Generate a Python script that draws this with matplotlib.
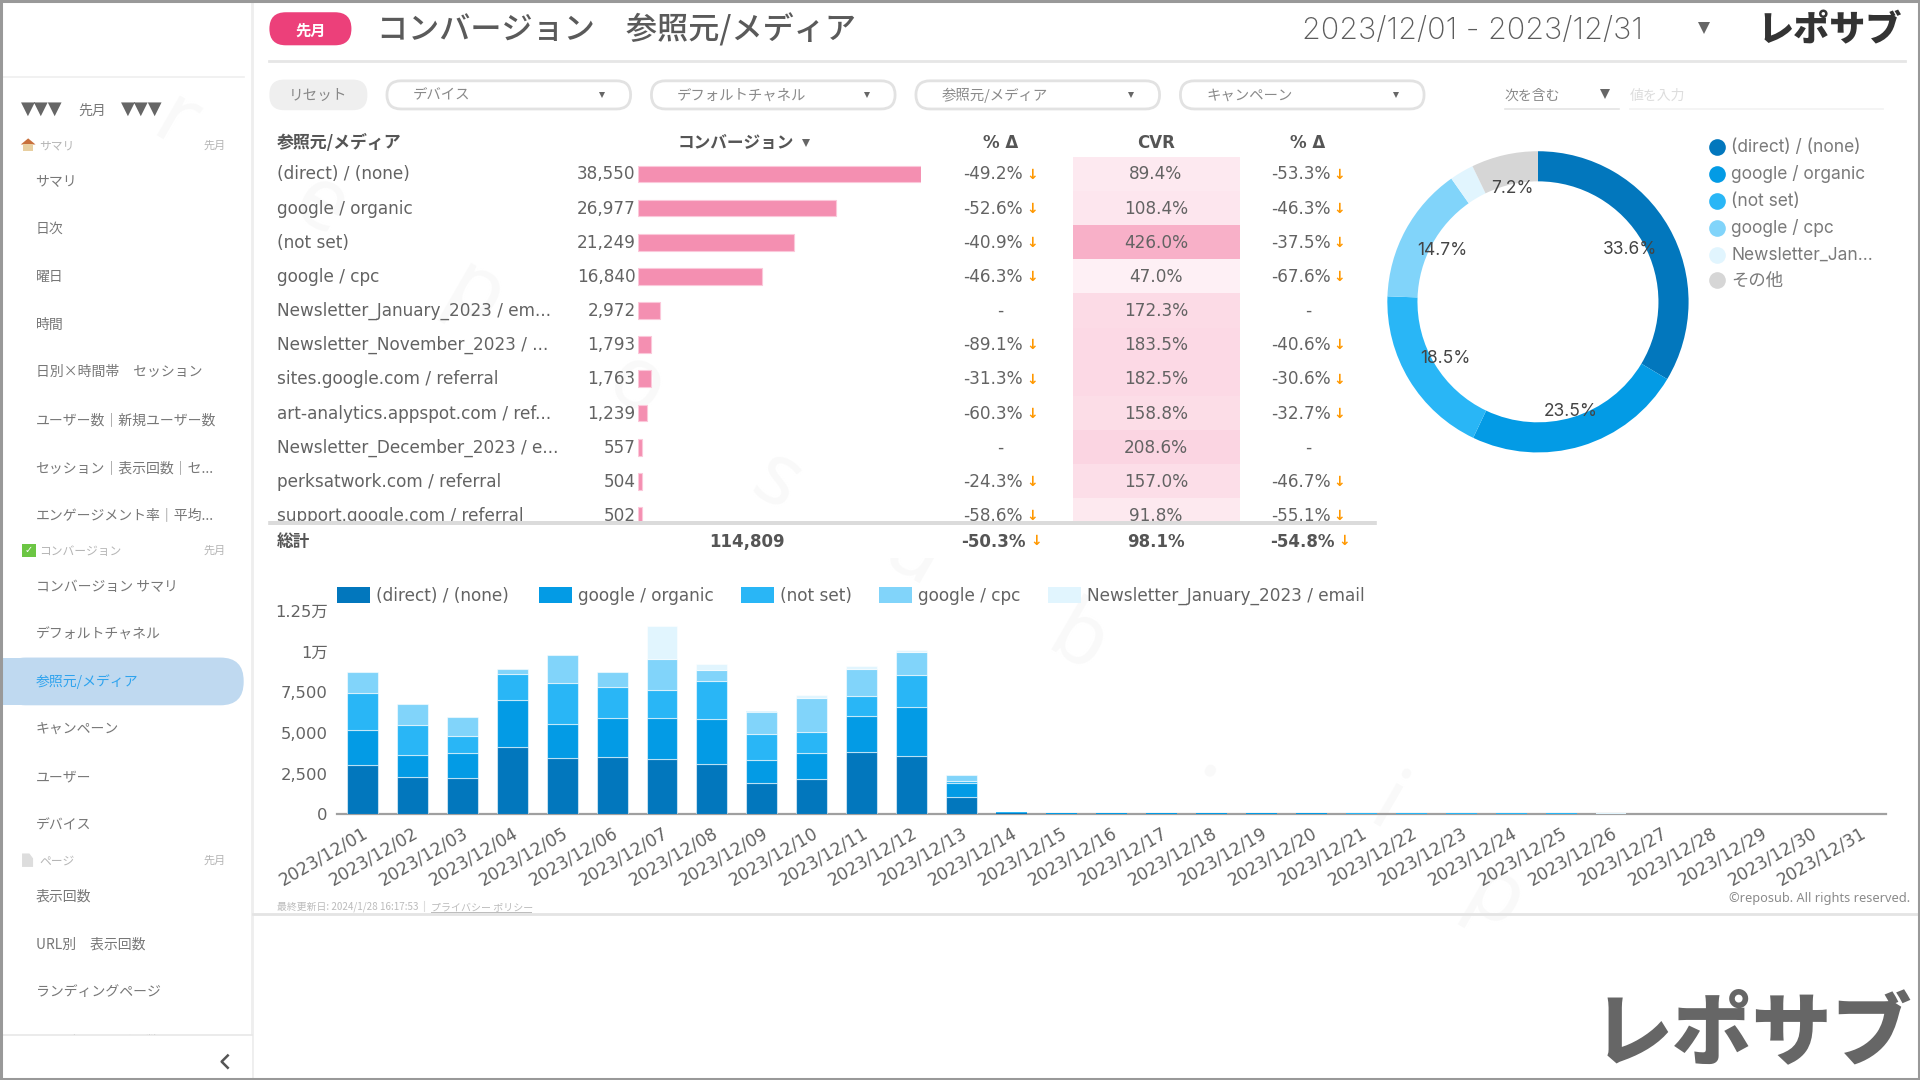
import matplotlib
matplotlib.use("Agg")
import matplotlib.pyplot as plt
import numpy as np
from matplotlib.colors import LinearSegmentedColormap, Normalize
from matplotlib.patches import FancyBboxPatch, Rectangle, Polygon

# 表のデータ
sources = [
    "(direct) / (none)", "google / organic", "(not set)", "google / cpc",
    "Newsletter_January_2023 / em...", "Newsletter_November_2023 / ...",
    "sites.google.com / referral", "art-analytics.appspot.com / ref...",
    "Newsletter_December_2023 / e...", "perksatwork.com / referral",
    "support.google.com / referral",
]
conversions = [38550, 26977, 21249, 16840, 2972, 1793, 1763, 1239, 557, 504, 502]
conv_delta = [-49.2, -52.6, -40.9, -46.3, None, -89.1, -31.3, -60.3, None, -24.3, -58.6]
cvr = [89.4, 108.4, 426.0, 47.0, 172.3, 183.5, 182.5, 158.8, 208.6, 157.0, 91.8]
cvr_delta = [-53.3, -46.3, -37.5, -67.6, None, -40.6, -30.6, -32.7, None, -46.7, -55.1]
total_conv = "114,809"
total_conv_delta = "-50.3%"
total_cvr = "98.1%"
total_cvr_delta = "-54.8%"

# ドーナツ
pie_labels = ["(direct) / (none)", "google / organic", "(not set)", "google / cpc",
              "Newsletter_Jan...", "その他"]
pie_values = [38550, 26977, 21249, 16840, 2972, 8221]

# 日別の積み上げ棒
dates = [f"2023/12/{d:02d}" for d in range(1, 32)]
direct = [3006, 2311, 2250, 4151, 3456, 3538, 3415, 3088, 1943, 2188, 3824, 3579, 1063,
          70, 40, 30, 30, 40, 30, 35, 30, 25, 28, 25, 28, 22, 22, 20, 22, 20, 20]
organic = [2168, 1329, 1513, 2863, 2086, 2393, 2515, 2781, 1391, 1575, 2229, 3047, 879,
           30, 25, 20, 20, 25, 20, 22, 18, 16, 16, 16, 16, 15, 14, 14, 14, 14, 14]
not_set = [2290, 1840, 1022, 1636, 2515, 1902, 1697, 2331, 1575, 1268, 1207, 1922, 120,
           15, 15, 10, 10, 12, 10, 10, 8, 8, 8, 8, 8, 6, 6, 6, 6, 6, 6]
cpc = [1288, 1309, 1227, 286, 1759, 920, 1943, 654, 1391, 2147, 1697, 1432, 348,
       15, 15, 8, 8, 12, 8, 8, 6, 6, 6, 6, 6, 5, 5, 5, 5, 5, 5]
newsletter = [0, 0, 0, 0, 0, 0, 1984, 409, 60, 143, 164, 102, 30,
              5, 3, 2, 2, 3, 2, 2, 2, 1, 1, 1, 1, 1, 1, 1, 1, 1, 1]
series_names = ["(direct) / (none)", "google / organic", "(not set)", "google / cpc",
                "Newsletter_January_2023 / email"]
series_values = [direct, organic, not_set, cpc, newsletter]
y_ticks = [0, 2500, 5000, 7500, 10000, 12500]
y_tick_labels = ["0", "2,500", "5,000", "7,500", "1万", "1.25万"]

# サイドバー
menu_items = [
    (148, "サマリ"), (187, "日次"), (226, "曜日"), (265, "時間"),
    (304, "日別×時間帯　セッション"), (343, "ユーザー数｜新規ユーザー数"),
    (382, "セッション｜表示回数｜セ..."), (421, "エンゲージメント率｜平均..."),
    (479, "コンバージョン サマリ"), (518, "デフォルトチャネル"), (557, "参照元/メディア"),
    (596, "キャンペーン"), (635, "ユーザー"), (674, "デバイス"),
    (732, "表示回数"), (771, "URL別　表示回数"), (810, "ランディングページ"),
    (851, "URL別　ユーザー数"),
]
section_items = [(119, "サマリ"), (450, "コンバージョン"), (703, "ページ")]
filter_items = [(315, "デバイス"), (531, "デフォルトチャネル"), (747, "参照元/メディア"), (963, "キャンペーン")]

BLUES = ["#0277bd", "#039be5", "#29b6f6", "#81d4fa", "#e1f5fe", "#d6d6d6"]
TEXT = "#636363"
LAT = ["Noto Sans", "Noto Sans CJK JP", "DejaVu Sans"]
TBL = ["DejaVu Sans", "Noto Sans CJK JP"]
JP = ["Noto Sans CJK JP", "DejaVu Sans"]
WIDE = ["Inter", "Noto Sans CJK JP", "DejaVu Sans"]

W, H = 1568, 882
fig = plt.figure(figsize=(19.2, 10.8), dpi=100, facecolor="white")


def make_axes(x0, y0, x1, y1, z=2):
    ax = fig.add_axes([x0 / W, 1 - y1 / H, (x1 - x0) / W, (y1 - y0) / H], zorder=z)
    ax.patch.set_alpha(0)
    return ax


def pill(x0, y0, x1, y1, r, fc="none", ec="none", lw=0, z=2):
    bg.add_patch(FancyBboxPatch((x0, y0), x1 - x0, y1 - y0, boxstyle=f"round,pad=0,rounding_size={r}",
                                fc=fc, ec=ec, lw=lw, zorder=z))


# 背景は画面の座標で描く
bg = fig.add_axes([0, 0, 1, 1], zorder=0)
bg.set_xlim(0, W)
bg.set_ylim(H, 0)
bg.axis("off")

# 透かし
for (wx, wy), ch in zip([(143, 102), (261, 169), (387, 242), (519, 316), (634, 395),
                         (745, 455), (880, 525), (994, 620), (1132, 660), (1220, 735)], "reposub.ip"):
    bg.text(wx, wy, ch, fontsize=62, color="#f9f9f9", family=LAT, fontweight="bold",
            rotation=-30, ha="center", va="center", zorder=0.5)

# サイドバー
bg.plot([206, 206], [0, H], color="#eeeeee", lw=2, zorder=1)
bg.plot([2, 199], [63, 63], color="#efefef", lw=1.2, zorder=1)
bg.text(34.5, 89, "▼▼▼", fontsize=13, color="#666666", family=["DejaVu Sans"], ha="center", va="center")
bg.text(75, 90, "先月", fontsize=10, color="#777777", family=JP, ha="center", va="center")
bg.text(115.5, 89, "▼▼▼", fontsize=13, color="#666666", family=["DejaVu Sans"], ha="center", va="center")
pill(2, 537, 199, 576, 19, fc="#bfd9f0", z=1)
bg.add_patch(Rectangle((2, 537), 30, 39, fc="#bfd9f0", ec="none", zorder=1))
for y, name in menu_items:
    c = "#2ea3ee" if name == "参照元/メディア" else "#777777"
    bg.text(29, y, name, fontsize=10, color=c, family=JP, ha="left", va="center", zorder=3)
bg.add_patch(Rectangle((2, 845), 204, 37, fc="white", ec="none", zorder=4))
bg.plot([2, 206], [845, 845], color="#e8e8e8", lw=1.2, zorder=5)
bg.plot([186, 181, 186], [862, 867, 872], color="#555555", lw=1.8, zorder=5)
for y, name in section_items:
    bg.text(32, y, name, fontsize=8.5, color="#b5b5b5", family=JP, ha="left", va="center")
    bg.text(184, y, "先月", fontsize=8, color="#b5b5b5", family=JP, ha="right", va="center")
bg.add_patch(Polygon([(17, 118), (23, 113), (29, 118)], fc="#c8703c", ec="none"))
bg.add_patch(Rectangle((19, 118), 8, 5, fc="#e8cfa0", ec="none"))
bg.add_patch(Rectangle((18, 444), 11, 11, fc="#6cc644", ec="none"))
bg.text(23.5, 449.5, "✓", fontsize=7, color="white", family=["DejaVu Sans"], fontweight="bold", ha="center", va="center")
bg.add_patch(Polygon([(18, 697), (24, 697), (27, 701), (27, 708), (18, 708)], fc="#dddddd", ec="none"))

# ヘッダー
pill(220, 10, 287, 37, 13.5, fc="#ec407a")
bg.text(253.5, 25, "先月", fontsize=11, color="white", family=JP, fontweight="bold", ha="center", va="center", zorder=3)
bg.text(308, 24.5, "コンバージョン　参照元/メディア", fontsize=22.4, color="#5a5a5a", family=JP, fontweight="medium", ha="left", va="center")
bg.text(1063, 25, "2023/12/01 - 2023/12/31", fontsize=22, color="#5c5c5c", family=WIDE, fontweight="light", ha="left", va="center")
bg.plot([1392], [23], marker="v", ms=9, color="#666666", mew=0)
bg.text(1494, 25, "レポサブ", fontsize=26, color="#333333", family=JP, fontweight="black", ha="center", va="center")
bg.plot([220, 1556], [50, 50], color="#e6e6e6", lw=2)

# フィルター
pill(220, 65, 300, 90, 12, fc="#efefef")
bg.text(260, 78, "リセット", fontsize=10.5, color="#888888", family=JP, ha="center", va="center", zorder=3)
for x, name in filter_items:
    pill(x + 1, 66, x + 200, 89, 11.5, fc="white", ec="#e2e2e2", lw=2)
    bg.text(x + 22, 78, name, fontsize=10.4, color="#8a8a8a", family=JP, ha="left", va="center", zorder=3)
    bg.plot([x + 177], [77.5], marker="v", ms=5, color="#666666", mew=0, zorder=3)
bg.text(1229, 78, "次を含む", fontsize=10, color="#8a8a8a", family=JP, ha="left", va="center")
bg.plot([1311], [77], marker="v", ms=7, color="#666666", mew=0)
bg.plot([1229, 1322], [89, 89], color="#e4e4e4", lw=1.2)
bg.text(1331, 78, "値を入力", fontsize=10, color="#dddddd", family=JP, ha="left", va="center")
bg.plot([1331, 1538], [89, 89], color="#f2f2f2", lw=1.2)

# 表
bg.text(226, 117, "参照元/メディア", fontsize=12.2, color="#555555", family=JP, fontweight="bold", ha="left", va="center")
bg.text(601, 117, "コンバージョン", fontsize=12, color="#555555", family=JP, fontweight="bold", ha="center", va="center")
bg.plot([658], [116.5], marker="v", ms=6, color="#666666", mew=0)
bg.text(817, 116.5, "% Δ", fontsize=12, color="#555555", family=TBL, fontweight="bold", ha="center", va="center")
bg.text(944, 116.5, "CVR", fontsize=12, color="#555555", family=TBL, fontweight="bold", ha="center", va="center")
bg.text(1068, 116.5, "% Δ", fontsize=12, color="#555555", family=TBL, fontweight="bold", ha="center", va="center")

rows_y = 142.5 + 27.9 * np.arange(len(sources))
for i, y in enumerate(rows_y):
    bg.text(226, y, sources[i], fontsize=12.2, color=TEXT, family=TBL, ha="left", va="center", zorder=3)
    bg.text(519, y, f"{conversions[i]:,}", fontsize=12.2, color=TEXT, family=TBL, ha="right", va="center", zorder=3)
    for d, right, mid, arrow in [(conv_delta[i], 835, 817, 843), (cvr_delta[i], 1087, 1068, 1094)]:
        if d is None:
            bg.text(mid, y, "-", fontsize=12.2, color=TEXT, family=TBL, ha="center", va="center", zorder=3)
        else:
            bg.text(right, y, f"{d:.1f}%", fontsize=12.2, color=TEXT, family=TBL, ha="right", va="center", zorder=3)
            bg.text(arrow, y, "↓", fontsize=10, color="#ff9800", family=["DejaVu Sans"], fontweight="bold", ha="center", va="center", zorder=3)

# 行の範囲 (row = 0 が y=142)
row_top, row_bottom = (128 - 142) / 27.9, (425.5 - 142) / 27.9

ax_bar = make_axes(521, 128, 752, 425.5)
ax_bar.barh(np.arange(len(sources)), conversions, height=0.49, color="#f48fb1", edgecolor="#fbc8da", linewidth=0.8)
ax_bar.set_xlim(0, conversions[0])
ax_bar.set_ylim(row_bottom, row_top)
ax_bar.axis("off")

cvr_cmap = LinearSegmentedColormap.from_list("cvr", ["#ffffff", "#f8b0c8"])
ax_cvr = make_axes(876, 128, 1013, 425.5, z=1)
ax_cvr.pcolormesh([0, 1], np.arange(len(sources) + 1) - 0.5, np.array(cvr).reshape(-1, 1),
                  cmap=cvr_cmap, norm=Normalize(vmin=-40, vmax=426))
ax_cvr.set_ylim(row_bottom, row_top)
ax_cvr.axis("off")

# 11行目は下で切れている
ax_top = fig.add_axes([0, 0, 1, 1], zorder=3)
ax_top.set_xlim(0, W)
ax_top.set_ylim(H, 0)
ax_top.axis("off")
for i, y in enumerate(rows_y):
    ax_top.text(944, y, f"{cvr[i]:.1f}%", fontsize=12.2, color=TEXT, family=TBL, ha="center", va="center", zorder=1)
ax_top.add_patch(Rectangle((208, 425.5), 930, 30, fc="white", ec="none", zorder=2))
ax_top.plot([220, 1124], [426, 426], color="#d4d4d4", lw=1.2, zorder=3)
ax_top.plot([220, 1124], [428, 428], color="#d4d4d4", lw=1.2, zorder=3)
ax_top.text(226, 443, "総計", fontsize=12, color="#555555", family=JP, fontweight="bold", ha="left", va="center", zorder=3)
ax_top.text(610, 442.5, total_conv, fontsize=12, color="#555555", family=TBL, fontweight="bold", ha="center", va="center", zorder=3)
ax_top.text(838, 442.5, total_conv_delta, fontsize=12, color="#555555", family=TBL, fontweight="bold", ha="right", va="center", zorder=3)
ax_top.text(846, 442, "↓", fontsize=10, color="#ff9800", family=["DejaVu Sans"], fontweight="bold", ha="center", va="center", zorder=3)
ax_top.text(944, 442.5, total_cvr, fontsize=12, color="#555555", family=TBL, fontweight="bold", ha="center", va="center", zorder=3)
ax_top.text(1090, 442.5, total_cvr_delta, fontsize=12, color="#555555", family=TBL, fontweight="bold", ha="right", va="center", zorder=3)
ax_top.text(1098, 442, "↓", fontsize=10, color="#ff9800", family=["DejaVu Sans"], fontweight="bold", ha="center", va="center", zorder=3)

# ドーナツ
ax_pie = make_axes(1133, 123, 1379, 370)
wedges, _, pct_texts = ax_pie.pie(pie_values, colors=BLUES, startangle=90, counterclock=False, radius=1,
                                  wedgeprops=dict(width=0.2), pctdistance=0.72,
                                  autopct=lambda p: f"{p:.1f}%" if p > 5 else "",
                                  textprops=dict(fontsize=12.5, color="#444444", family=WIDE))
# ラベルは内側の縁に少しかかる位置
for t, r in zip(pct_texts, [0.70, 0.76, 0.72, 0.72, 0.72, 0.77]):
    px, py = t.get_position()
    scale = r / np.hypot(px, py)
    t.set_position((px * scale, py * scale))
ax_pie.set_xlim(-1, 1)
ax_pie.set_ylim(-1, 1)
for y, name, c in zip([120, 142, 164, 186, 208, 229], pie_labels, BLUES):
    bg.plot([1402], [y], marker="o", ms=12, color=c, mec="none")
    bg.text(1414, y + 0.5, name, fontsize=12.5, color="#7a7a7a", family=WIDE, ha="left", va="center")

# 積み上げ棒
ax_day = make_axes(275.5, 499, 1540, 665)
x = np.arange(len(dates))
bottom = np.zeros(len(dates))
for vals, c in zip(series_values, BLUES):
    # 小さい棒は縁取りで消えないようにする
    edges = [(1, 1, 1, 0.55) if v >= 100 else (1, 1, 1, 0) for v in vals]
    ax_day.bar(x, vals, width=0.62, bottom=bottom, color=c, edgecolor=edges, linewidth=0.8)
    bottom += np.array(vals)
ax_day.set_xlim(-0.5, len(dates) - 0.5)
ax_day.set_ylim(0, 12500)
ax_day.set_yticks(y_ticks)
ax_day.set_yticklabels(y_tick_labels, fontsize=11.8, color=TEXT, family=TBL)
ax_day.set_xticks(x)
ax_day.set_xticklabels(dates, fontsize=12.4, color=TEXT, family=TBL, rotation=30, ha="right", rotation_mode="anchor")
ax_day.tick_params(length=0, axis="both")
ax_day.tick_params(axis="y", pad=7)
ax_day.tick_params(axis="x", pad=7)
for side in ["top", "left", "right"]:
    ax_day.spines[side].set_visible(False)
ax_day.spines["bottom"].set_color("#a0a0a0")
ax_day.spines["bottom"].set_linewidth(1.6)
ax_day.spines["bottom"].set_zorder(0.5)

for sx, name, c in zip([275, 440, 605, 718, 856], series_names, BLUES):
    bg.add_patch(Rectangle((sx, 479.5), 27, 13, fc=c, ec="none"))
    bg.text(sx + 32, 486.5, name, fontsize=12.2, color=TEXT, family=TBL, ha="left", va="center")

# フッター
bg.text(226, 740.5, "最終更新日: 2024/1/28 16:17:53", fontsize=7.1, color="#bbbbbb", family=JP, ha="left", va="center")
bg.plot([346, 346], [736, 744], color="#dddddd", lw=0.8)
bg.text(352, 740.5, "プライバシー ポリシー", fontsize=7.2, color="#bbbbbb", family=JP, ha="left", va="center")
bg.plot([352, 434], [745, 745], color="#bbbbbb", lw=0.7)
bg.text(1560, 734, "©reposub. All rights reserved.", fontsize=9.2, color="#8a8a8a", family=LAT, ha="right", va="center")
bg.plot([207, 1568], [746.5, 746.5], color="#e4e4e4", lw=2)
bg.text(1431, 845, "レポサブ", fontsize=57.5, color="#666666", family=JP, fontweight="black", ha="center", va="center")

# 外枠
ax_top.add_patch(Rectangle((0.7, 0.7), W - 1.4, H - 1.4, fc="none", ec="#999999", lw=2.2, zorder=5))

fig.savefig("out.png", dpi=100)
